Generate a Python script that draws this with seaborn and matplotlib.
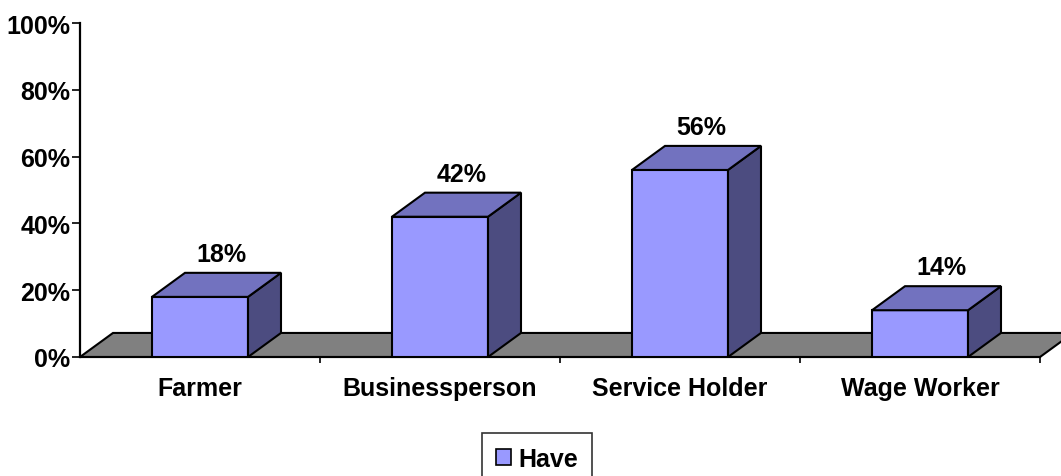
import matplotlib
matplotlib.use("Agg")
import matplotlib.pyplot as plt
from matplotlib.patches import Polygon, Patch
import seaborn as sns
import pandas as pd

categories = ["Farmer", "Businessperson", "Service Holder", "Wage Worker"]
have_values = [18, 42, 56, 14]
value_labels = ["18%", "42%", "56%", "14%"]
y_ticks = [0, 20, 40, 60, 80, 100]
y_tick_labels = ["0%", "20%", "40%", "60%", "80%", "100%"]
series_name = "Have"

FRONT = "#9999FF"
TOP = "#7272BF"
SIDE = "#4C4C80"
FLOOR = "#808080"

sns.set_theme(style="white")
plt.rcParams["font.family"] = ["Liberation Sans", "DejaVu Sans"]
plt.rcParams["font.weight"] = "bold"
plt.rcParams["text.color"] = "black"
plt.rcParams["xtick.color"] = "black"
plt.rcParams["ytick.color"] = "black"
plt.rcParams["xtick.labelcolor"] = "black"
plt.rcParams["ytick.labelcolor"] = "black"

df = pd.DataFrame({"category": categories, "value": have_values})

fig = plt.figure(figsize=(10.61, 4.77), dpi=100)
ax = fig.add_axes([80 / 1061, 1 - 358 / 477, 960 / 1061, 334 / 477])

bar_w = 0.4
sns.barplot(data=df, x="category", y="value", order=categories, color=FRONT,
            width=bar_w, edgecolor="black", linewidth=1.5, saturation=1,
            ax=ax, zorder=3)

ax.set_xlim(-0.5, len(categories) - 0.5)
ax.set_ylim(0, 100)

# 3D depth offsets (data units)
ddx = 0.1375
ddy = 7.2

# floor
x_lo, x_hi = -0.5, len(categories) - 0.5
floor = Polygon([(x_lo, 0), (x_hi, 0), (x_hi + ddx, ddy), (x_lo + ddx, ddy)],
                closed=True, facecolor=FLOOR, edgecolor="black", linewidth=1.5,
                clip_on=False, zorder=1)
ax.add_patch(floor)

for i, v in enumerate(have_values):
    x0, x1 = i - bar_w / 2, i + bar_w / 2
    top = Polygon([(x0, v), (x1, v), (x1 + ddx, v + ddy), (x0 + ddx, v + ddy)],
                  closed=True, facecolor=TOP, edgecolor="black", linewidth=1.5,
                  clip_on=False, zorder=3)
    side = Polygon([(x1, 0), (x1, v), (x1 + ddx, v + ddy), (x1 + ddx, ddy)],
                   closed=True, facecolor=SIDE, edgecolor="black", linewidth=1.5,
                   clip_on=False, zorder=3)
    ax.add_patch(side)
    ax.add_patch(top)
    ax.text(i + 0.09, v + ddy + 5.6, value_labels[i], ha="center", va="center",
            fontsize=18, fontweight="bold", color="black", zorder=4)

for s in ["top", "right"]:
    ax.spines[s].set_visible(False)
ax.spines["left"].set_color("black")
ax.spines["left"].set_linewidth(1.6)
ax.spines["bottom"].set_color("black")
ax.spines["bottom"].set_linewidth(1.5)
ax.spines["bottom"].set_zorder(2)

ax.set_yticks(y_ticks)
ax.set_yticklabels(y_tick_labels, fontsize=18, fontweight="bold", color="black")
ax.tick_params(axis="y", direction="out", length=6, width=1.2, pad=1,
               color="black", left=True)

ax.set_xticks(range(len(categories)))
ax.set_xticklabels(categories, fontsize=18, fontweight="bold", color="black")
ax.tick_params(axis="x", which="major", length=0, pad=14)
ax.set_xticks([i + 0.5 for i in range(len(categories))], minor=True)
ax.tick_params(axis="x", which="minor", direction="out", length=4, width=1.2,
               color="black", bottom=True)

ax.set_xlabel("")
ax.set_ylabel("")
ax.grid(False)

handle = Patch(facecolor=FRONT, edgecolor="black", linewidth=1.2, label=series_name)
leg = fig.legend(handles=[handle], loc="upper center",
                 bbox_to_anchor=(537 / 1061, 1 - 434 / 477),
                 prop={"size": 18, "weight": "bold"}, frameon=True,
                 fancybox=False, handlelength=0.6, handleheight=0.6,
                 handletextpad=0.3, borderpad=0.55, borderaxespad=0)
leg.get_frame().set_edgecolor("black")
leg.get_frame().set_linewidth(1.2)
for t in leg.get_texts():
    t.set_color("black")

fig.savefig("out.png", dpi=100)
